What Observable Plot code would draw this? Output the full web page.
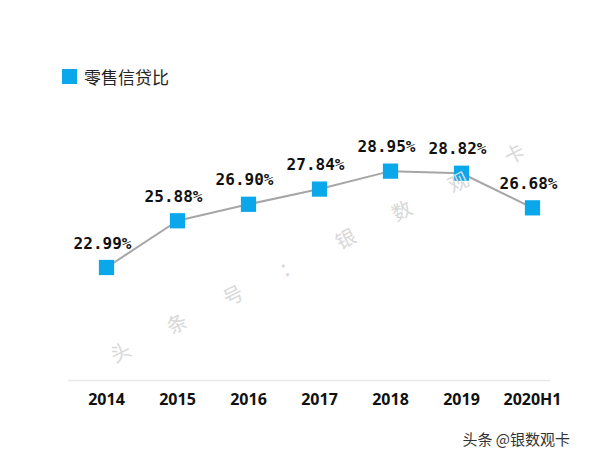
<!DOCTYPE html>
<html><head><meta charset="utf-8">
<script src="https://cdn.jsdelivr.net/npm/d3@7"></script>
<script src="https://cdn.jsdelivr.net/npm/@observablehq/plot@0.6"></script>
<style>
body{margin:0;background:#fff;}
#wrap{position:relative;width:600px;height:450px;overflow:hidden;background:#fff;}
#legend{position:absolute;left:62px;top:64px;display:flex;align-items:center;font-family:"Noto Sans CJK SC",sans-serif;font-size:17px;color:#222;}
#legend .sw{width:15px;height:15px;background:#0aa8ea;margin-right:7px;}
#wm{position:absolute;left:317px;top:252px;transform:translate(-50%,-50%) rotate(-26.7deg);white-space:nowrap;font-family:"Noto Sans CJK SC",sans-serif;font-size:20px;color:#d8d8d8;letter-spacing:43px;padding-left:43px;}
#credit{position:absolute;right:30px;top:428px;font-family:"Noto Sans CJK SC",sans-serif;font-size:15px;color:#333;text-shadow:0 0 2px #fff;}
svg{position:absolute;left:0;top:0;}
</style></head><body><div id="wrap"></div>
<script>
const years = ["2014","2015","2016","2017","2018","2019","2020H1"];
const ratios = [22.99,25.88,26.90,27.84,28.95,28.82,26.68];
const labels = ratios.map(v => v.toFixed(2) + "%");
const seriesName = "零售信贷比";
const watermark = "头条号：银数观卡";
const credit = "头条 @银数观卡";

const data = years.map((y, i) => ({year: y, value: ratios[i], label: labels[i]}));

const wrap = document.getElementById("wrap");

const chart = Plot.plot({
  width: 600,
  height: 450,
  marginTop: 89,
  marginBottom: 70,
  marginLeft: 68,
  marginRight: 50,
  style: {fontFamily: "'Open Sans', sans-serif", fontSize: "16px", fontWeight: "bold", background: "transparent", color: "#111"},
  x: {type: "point", domain: years, padding: 0, insetLeft: 36, insetRight: 17, tickSize: 0, tickPadding: 13, label: null},
  y: {domain: [16, 34], axis: null},
  marks: [
    Plot.ruleY([16], {stroke: "#e8e8e8", strokeWidth: 1.5}),
    Plot.line(data, {x: "year", y: "value", stroke: "#a6a6a6", strokeWidth: 2}),
    Plot.dot(data, {x: "year", y: "value", symbol: "square", r: 8.6, fill: "#0aa8ea", stroke: "none"}),
    Plot.text(data, {x: "year", y: "value", text: "label", dy: -24, dx: -4, fontFamily: "'DejaVu Sans Mono', monospace", fontSize: 16, fontWeight: "bold", fill: "#111"})
  ]
});
wrap.appendChild(chart);

const wm = document.createElement("div");
wm.id = "wm";
wm.textContent = watermark;
wrap.appendChild(wm);

const lg = document.createElement("div");
lg.id = "legend";
lg.innerHTML = '<div class="sw"></div><span></span>';
lg.querySelector("span").textContent = seriesName;
wrap.appendChild(lg);

const cr = document.createElement("div");
cr.id = "credit";
cr.textContent = credit;
wrap.appendChild(cr);
</script>
</body></html>
